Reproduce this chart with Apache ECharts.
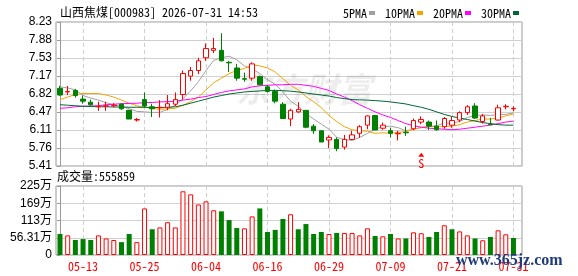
<!DOCTYPE html>
<html>
<head>
<meta charset="utf-8">
<title>山西焦煤 日K</title>
<script src="https://cdn.jsdelivr.net/npm/echarts@6/dist/echarts.min.js"></script>
<style>
  html, body { margin: 0; padding: 0; background: #fff; }
  .com-chart { width: 578px; height: 276px; overflow: hidden; }
</style>
</head>
<body>
<div class="com-chart" id="kline"></div>
<script>
// 标题信息
const stockName = '山西焦煤'
const stockCode = '000983'
const quoteTime = '2026-07-31 14:53'

// 日K数据 (60个交易日)
const opens = [6.93, 6.86, 6.89, 6.72, 6.66, 6.57, 6.58, 6.59, 6.62, 6.50,
  6.31, 6.71, 6.57, 6.55, 6.56, 6.62, 6.81, 7.17, 7.28, 7.53,
  7.675, 7.675, 7.44, 7.33, 7.12, 7.13, 7.16, 6.96, 6.87, 6.62,
  6.33, 6.47, 6.50, 6.19, 6.10, 5.92, 5.93, 5.78, 5.93, 6.05,
  6.21, 6.40, 6.15, 6.10, 6.04, 6.07, 6.14, 6.27, 6.27, 6.19,
  6.18, 6.21, 6.31, 6.455, 6.585, 6.28, 6.23, 6.31, 6.57, 6.53]
const closes = [6.80, 6.87, 6.79, 6.68, 6.61, 6.58, 6.59, 6.60, 6.53, 6.33,
  6.32, 6.585, 6.53, 6.56, 6.63, 6.71, 7.22, 7.28, 7.47, 7.71,
  7.71, 7.47, 7.43, 7.13, 7.11, 7.41, 7.00, 6.87, 6.68, 6.34,
  6.50, 6.52, 6.17, 6.10, 5.88, 5.97, 5.75, 5.93, 6.02, 6.18,
  6.39, 6.115, 6.21, 6.05, 6.05, 6.06, 6.30, 6.32, 6.19, 6.12,
  6.34, 6.30, 6.455, 6.57, 6.35, 6.39, 6.22, 6.55, 6.58, 6.54]
const lows = [6.79, 6.80, 6.75, 6.63, 6.59, 6.49, 6.49, 6.56, 6.51, 6.33,
  6.28, 6.55, 6.37, 6.36, 6.50, 6.585, 6.71, 7.08, 7.21, 7.47,
  7.62, 7.46, 7.25, 7.08, 7.06, 7.08, 6.99, 6.85, 6.64, 6.34,
  6.19, 6.45, 6.15, 6.04, 5.88, 5.76, 5.70, 5.73, 5.92, 5.96,
  6.13, 6.11, 6.12, 5.97, 5.91, 6.00, 6.11, 6.23, 6.115, 6.10,
  6.14, 6.16, 6.27, 6.41, 6.33, 6.24, 6.21, 6.30, 6.52, 6.48]
const highs = [6.98, 6.98, 6.92, 6.79, 6.71, 6.67, 6.67, 6.64, 6.64, 6.51,
  6.35, 6.85, 6.63, 6.70, 6.80, 6.85, 7.28, 7.35, 7.53, 7.81,
  7.92, 8.01, 7.47, 7.41, 7.24, 7.44, 7.18, 7.00, 6.91, 6.66,
  6.53, 6.66, 6.50, 6.23, 6.10, 6.01, 5.97, 6.02, 6.10, 6.21,
  6.40, 6.41, 6.26, 6.16, 6.10, 6.18, 6.34, 6.38, 6.30, 6.30,
  6.37, 6.37, 6.48, 6.60, 6.64, 6.43, 6.35, 6.61, 6.62, 6.58]

// 均线
const ma5 = [6.96, 6.94, 6.90, 6.79, 6.74, 6.70, 6.65, 6.61, 6.58, 6.53,
  6.48, 6.47, 6.46, 6.46, 6.52, 6.60, 6.73, 6.88, 7.06, 7.28,
  7.48, 7.53, 7.56, 7.49, 7.37, 7.31, 7.22, 7.10, 7.01, 6.86,
  6.68, 6.58, 6.44, 6.33, 6.23, 6.13, 5.97, 5.93, 5.91, 5.97,
  6.05, 6.13, 6.18, 6.19, 6.16, 6.10, 6.13, 6.16, 6.18, 6.20,
  6.25, 6.25, 6.28, 6.36, 6.40, 6.41, 6.40, 6.42, 6.42, 6.45]
const ma10 = [6.71, 6.76, 6.81, 6.83, 6.83, 6.83, 6.80, 6.76, 6.70, 6.64,
  6.59, 6.56, 6.54, 6.52, 6.53, 6.54, 6.60, 6.67, 6.76, 6.90,
  7.04, 7.13, 7.22, 7.28, 7.32, 7.39, 7.37, 7.33, 7.25, 7.12,
  6.99, 6.90, 6.77, 6.67, 6.55, 6.40, 6.28, 6.18, 6.12, 6.10,
  6.09, 6.05, 6.06, 6.05, 6.07, 6.08, 6.13, 6.17, 6.19, 6.18,
  6.18, 6.19, 6.22, 6.27, 6.30, 6.33, 6.33, 6.35, 6.39, 6.43]
const ma20 = [6.54, 6.55, 6.57, 6.58, 6.585, 6.59, 6.61, 6.62, 6.63, 6.635,
  6.64, 6.65, 6.655, 6.665, 6.67, 6.68, 6.70, 6.72, 6.75, 6.77,
  6.81, 6.85, 6.88, 6.90, 6.92, 6.96, 6.98, 6.99, 7.00, 7.00,
  7.01, 7.01, 6.99, 6.97, 6.93, 6.89, 6.82, 6.76, 6.69, 6.61,
  6.54, 6.47, 6.41, 6.36, 6.30, 6.24, 6.20, 6.17, 6.15, 6.14,
  6.13, 6.12, 6.13, 6.15, 6.17, 6.19, 6.21, 6.24, 6.27, 6.29]
const ma30 = [6.61, 6.60, 6.59, 6.58, 6.575, 6.57, 6.57, 6.565, 6.565, 6.56,
  6.56, 6.56, 6.555, 6.555, 6.56, 6.57, 6.60, 6.64, 6.68, 6.72,
  6.76, 6.79, 6.82, 6.84, 6.86, 6.87, 6.88, 6.89, 6.89, 6.885,
  6.875, 6.86, 6.84, 6.82, 6.80, 6.78, 6.75, 6.73, 6.71, 6.705,
  6.70, 6.69, 6.68, 6.665, 6.645, 6.625, 6.59, 6.56, 6.52, 6.47,
  6.42, 6.38, 6.35, 6.32, 6.29, 6.26, 6.24, 6.22, 6.21, 6.21]

// 成交量 (股) 和涨跌 (1 = 红, 0 = 绿)
const volumes = [685000, 640000, 490000, 520000, 490000, 640000, 540000, 490000, 420000, 685000,
  420000, 1520000, 840000, 900000, 1070000, 900000, 2080000, 1980000, 1650000, 1750000,
  1460000, 1425000, 1140000, 880000, 870000, 1260000, 1520000, 750000, 820000, 1175000,
  1330000, 840000, 1010000, 685000, 750000, 685000, 720000, 720000, 720000, 640000,
  870000, 620000, 610000, 685000, 540000, 540000, 740000, 710000, 590000, 750000,
  970000, 840000, 770000, 640000, 540000, 480000, 590000, 805000, 675000, 555859]
const volUp = [0, 1, 0, 0, 0, 1, 1, 1, 0, 0,
  1, 1, 0, 1, 1, 1, 1, 1, 1, 1,
  1, 0, 0, 0, 1, 1, 0, 0, 0, 0,
  1, 0, 0, 0, 0, 1, 0, 1, 1, 1,
  1, 0, 1, 0, 1, 0, 1, 1, 0, 0,
  1, 0, 1, 1, 0, 1, 0, 1, 1, 0]

// 坐标轴刻度
const dateTickIdx = [3, 11, 19, 27, 35, 43, 51, 59]
const dateTickLabels = ['05-13', '05-25', '06-04', '06-16', '06-29', '07-09', '07-21', '07-31']
const priceTicks = ['5.41', '5.76', '6.11', '6.47', '6.82', '7.17', '7.53', '7.88', '8.23']
const volTicks = ['0', '56.31万', '113万', '169万', '225万']

// 卖出信号
const signalIdx = 47
const signalPrice = 5.63

const priceMin = 5.41
const priceMax = 8.23
const priceStep = 0.3525
const volMax = 2252400
const volStep = 563100

const RED = '#ff0000'
const GREEN = '#008000'
const monoFont = '"Noto Sans Mono CJK SC", "Liberation Mono", monospace'
const sansFont = '"Liberation Sans", "Noto Sans CJK SC", sans-serif'

const chartInstance = echarts.init(document.getElementById('kline'))

const candleData = opens.map((o, i) => [i, o, closes[i], lows[i], highs[i]])
const toLine = (arr) => arr.map((v, i) => [i, v])
const volData = volumes.map((v, i) => ({
  value: [i, v],
  itemStyle: volUp[i]
    ? { color: '#fff', borderColor: RED, borderWidth: 1 }
    : { color: GREEN, borderColor: GREEN, borderWidth: 0 }
}))

const dateLabel = (v) => {
  const k = dateTickIdx.indexOf(Math.round(v))
  return k >= 0 ? dateTickLabels[k] : ''
}

const xCommon = {
  type: 'value',
  min: -0.52,
  max: 60.11,
  axisLine: { show: false },
  axisTick: { show: false, customValues: dateTickIdx },
  splitLine: { show: true, lineStyle: { color: '#cfcfcf', type: [4, 3] } }
}

const maLine = (name, data, color) => ({
  name: name,
  type: 'line',
  xAxisIndex: 0,
  yAxisIndex: 0,
  data: toLine(data),
  color: color,
  showSymbol: false,
  symbol: 'none',
  lineStyle: { width: 1, color: color },
  z: 3
})

const option = {
  animation: false,
  title: {
    text: stockName + '[' + stockCode + '] ' + quoteTime,
    left: 55,
    top: 1,
    textStyle: { fontFamily: monoFont, fontSize: 12, fontWeight: 'normal', color: '#000' }
  },
  legend: {
    data: ['5PMA', '10PMA', '20PMA', '30PMA'],
    left: 338,
    top: 2,
    align: 'right',
    icon: 'rect',
    itemWidth: 6,
    itemHeight: 4,
    itemGap: 10,
    selectedMode: false,
    textStyle: { fontFamily: monoFont, fontSize: 12, color: '#000', padding: [0, -3, 0, 0] }
  },
  grid: [
    { left: 56, right: 56, top: 22, height: 144, show: true, borderColor: '#999', borderWidth: 1 },
    { left: 56, right: 56, top: 186, height: 69, show: true, borderColor: '#999', borderWidth: 1 }
  ],
  xAxis: [
    Object.assign({ gridIndex: 0, axisLabel: { show: false, customValues: dateTickIdx } }, xCommon),
    Object.assign({
      gridIndex: 1,
      axisLabel: {
        show: true,
        customValues: dateTickIdx,
        formatter: dateLabel,
        color: RED,
        fontFamily: monoFont,
        fontSize: 12,
        margin: 5
      }
    }, xCommon)
  ],
  yAxis: [
    {
      type: 'value',
      gridIndex: 0,
      min: priceMin,
      max: priceMax,
      interval: priceStep,
      axisLine: { show: true, lineStyle: { color: '#999' } },
      axisTick: { show: true, length: 3, lineStyle: { color: '#999' } },
      axisLabel: {
        fontFamily: sansFont,
        fontSize: 12,
        color: '#000',
        margin: 4,
        formatter: (v) => priceTicks[Math.round((v - priceMin) / priceStep)]
      },
      splitLine: { lineStyle: { color: '#d0d0d0' } }
    },
    {
      type: 'value',
      gridIndex: 1,
      min: 0,
      max: volMax,
      interval: volStep,
      axisLine: { show: true, lineStyle: { color: '#999' } },
      axisTick: { show: true, length: 3, lineStyle: { color: '#999' } },
      axisLabel: {
        fontFamily: sansFont,
        fontSize: 12,
        color: '#000',
        margin: 4,
        formatter: (v) => volTicks[Math.round(v / volStep)]
      },
      splitLine: { lineStyle: { color: '#d0d0d0' } }
    }
  ],
  graphic: [
    {
      type: 'text',
      left: 236,
      top: 72,
      z: 1,
      style: {
        text: '东方财富',
        font: 'bold italic 34px "Noto Sans CJK SC"',
        fill: 'rgba(0, 0, 0, 0.07)'
      }
    },
    {
      type: 'text',
      left: 57,
      top: 170,
      style: {
        text: '成交量:' + volumes[volumes.length - 1],
        font: '12px ' + monoFont,
        fill: '#000'
      }
    },
    {
      type: 'text',
      left: 456,
      top: 253,
      z: 100,
      style: {
        text: 'www.365jz.com',
        font: 'bold 16px "Liberation Serif", serif',
        fill: '#1f3c7a'
      }
    }
  ],
  series: [
    {
      name: '日K',
      type: 'candlestick',
      xAxisIndex: 0,
      yAxisIndex: 0,
      data: candleData,
      encode: { x: 0, y: [1, 2, 3, 4] },
      barWidth: 5,
      itemStyle: {
        color: '#fff',
        color0: GREEN,
        borderColor: RED,
        borderColor0: GREEN,
        borderWidth: 1
      },
      z: 4,
      markPoint: {
        symbol: 'triangle',
        symbolSize: [6, 4],
        itemStyle: { color: RED },
        label: {
          show: true,
          position: 'bottom',
          distance: 1,
          formatter: 'S',
          color: RED,
          fontFamily: monoFont,
          fontSize: 12
        },
        data: [{ coord: [signalIdx, signalPrice] }]
      }
    },
    maLine('5PMA', ma5, '#a0a0a0'),
    maLine('10PMA', ma10, '#f5a300'),
    maLine('20PMA', ma20, '#ff00ff'),
    maLine('30PMA', ma30, '#006633'),
    {
      name: '成交量',
      type: 'bar',
      xAxisIndex: 1,
      yAxisIndex: 1,
      data: volData,
      barWidth: 5
    }
  ]
}

chartInstance.setOption(option)
</script>
</body>
</html>
